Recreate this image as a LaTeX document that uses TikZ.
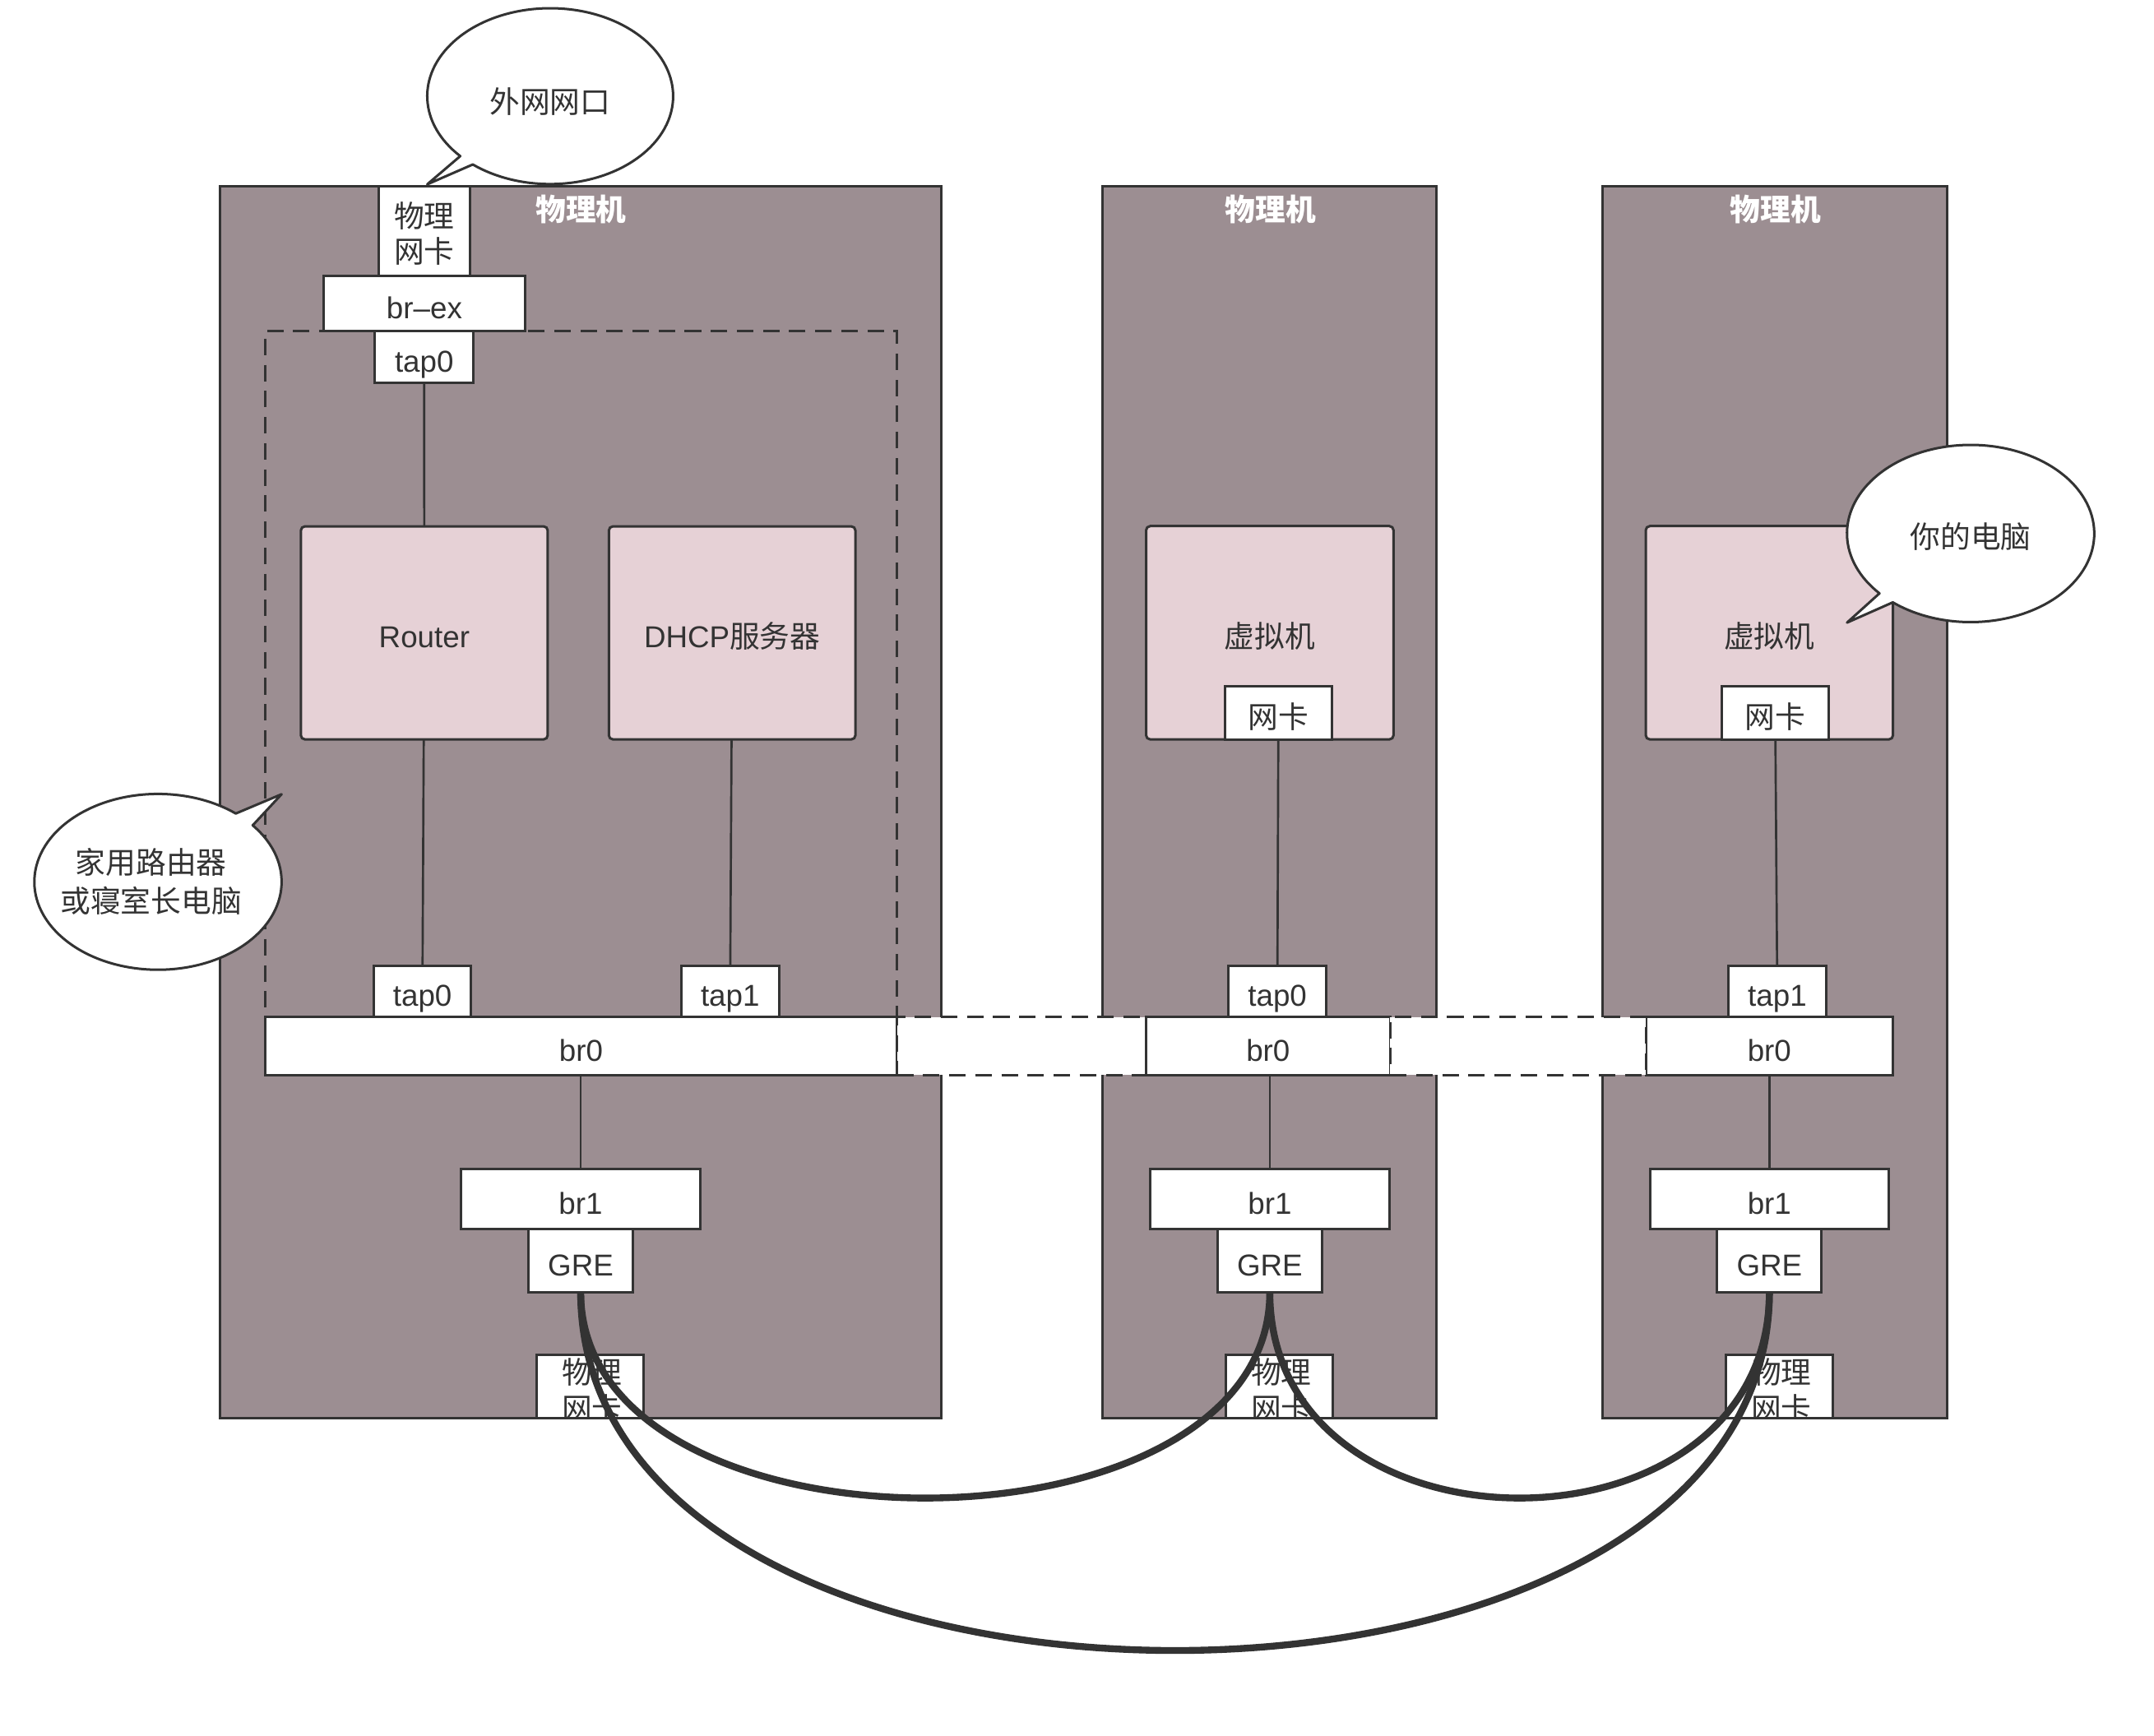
\documentclass[tikz,border=0pt]{standalone}
\usepackage{fontspec}
\setmainfont{Liberation Sans}
\newfontfamily\cjk{Noto Sans CJK SC}
\usetikzlibrary{calc}
\definecolor{hostfill}{HTML}{9C8E92}
\definecolor{vmfill}{HTML}{E6D1D6}
\definecolor{ink}{HTML}{333333}
\newcommand\mybox[7]{\node[#6, minimum width={(#4)-(#2)}, minimum height={(#5)-(#3)}] (#1) at ({((#2)+(#4))/2},{((#3)+(#5))/2}) {#7};}
\begin{document}
\begin{tikzpicture}[x=1pt, y=-1pt, font=\fontsize{22}{26}\selectfont,
  hostbox/.style={draw=ink, fill=hostfill, line width=1.8pt, inner sep=0pt, outer sep=0pt},
  wbox/.style={draw=ink, fill=white, line width=1.8pt, inner sep=0pt, outer sep=0pt, text=ink, text height=22pt, text depth=0pt},
  vmbox/.style={draw=ink, fill=vmfill, line width=1.8pt, rounded corners=3pt, inner sep=0pt, outer sep=0pt, text=ink, text height=22pt, text depth=0pt},
  dashbox/.style={draw=ink, fill=white, line width=1.8pt, dash pattern=on 12pt off 7pt, inner sep=0pt, outer sep=0pt},
  zonebox/.style={draw=ink, line width=1.8pt, dash pattern=on 12pt off 7pt, inner sep=0pt, outer sep=0pt},
  hosttitle/.style={text=white, font=\fontsize{22}{26}\selectfont\cjk\bfseries, inner sep=0pt},
  conn/.style={draw=ink, line width=1.6pt},
  grelink/.style={draw=ink, line width=5pt},
  bubble/.style={draw=ink, fill=white, line width=1.8pt, line join=round},
  btext/.style={text=ink, align=center, inner sep=0pt, font=\fontsize{22}{26}\selectfont\cjk}]
\useasboundingbox (0,0) rectangle (1568,1263.3);
\fill[white] (0,0) rectangle (1568,1263.3);

% hosts
\mybox{h1}{160}{135.4}{685.3}{1032.5}{hostbox}{}
\mybox{h2}{802.8}{135.4}{1045.9}{1032.5}{hostbox}{}
\mybox{h3}{1166.5}{135.4}{1417.5}{1032.5}{hostbox}{}
\node[hosttitle] (t1) at (423,152.5) {物理机};
\node[hosttitle] (t2) at (924.9,152.5) {物理机};
\node[hosttitle] (t3) at (1292.5,152.5) {物理机};

% router zone
\mybox{zone}{193}{241}{653}{740.4}{zonebox}{}

% host 1 upper
\mybox{nicT}{275.6}{135.4}{342.1}{200.6}{wbox}{}
\node[btext] (nicTT) at ($(nicT.center)+(0,2)$) {物理\\网卡};
\mybox{brex}{235.6}{200.6}{382.2}{241}{wbox}{br–ex}
\mybox{tapT}{273}{241}{344.6}{278.8}{wbox}{tap0}
\mybox{router}{219}{383.2}{398.7}{538.3}{vmbox}{Router}
\mybox{dhcp}{443.2}{383.2}{622.7}{538.3}{vmbox}{DHCP{\cjk 服务器}}
\mybox{tapA}{272}{703}{343}{740.4}{wbox}{tap0}
\mybox{tapB}{496}{703}{567}{740.4}{wbox}{tap1}

% host 2/3 VMs
\mybox{vm2}{834.3}{383}{1014.4}{538.3}{vmbox}{\cjk 虚拟机}
\mybox{vnic2}{891.8}{499.6}{969.4}{538.3}{wbox}{\cjk 网卡}
\mybox{vm3}{1198}{383}{1378}{538.3}{vmbox}{\cjk 虚拟机}
\mybox{vnic3}{1253.5}{499.6}{1331}{538.3}{wbox}{\cjk 网卡}
\mybox{tapC}{894.3}{703}{965.4}{740.4}{wbox}{tap0}
\mybox{tapD}{1258}{703}{1329.5}{740.4}{wbox}{tap1}

% br0 chain
\mybox{br0a}{193}{740.4}{653}{782.7}{wbox}{br0}
\mybox{link1}{653}{740.4}{834.3}{782.7}{dashbox}{}
\mybox{br0b}{834.3}{740.4}{1011.9}{782.7}{wbox}{br0}
\mybox{br0c}{1198}{740.4}{1378}{782.7}{wbox}{br0}
\mybox{link2}{1011.9}{740.4}{1198}{782.7}{dashbox}{}

% br1 / GRE / nic
\mybox{br1a}{335.6}{851.2}{509.7}{894.7}{wbox}{br1}
\mybox{grea}{384.7}{894.7}{460.7}{940.6}{wbox}{GRE}
\mybox{nica}{390.7}{986.2}{468.2}{1032.5}{wbox}{}
\mybox{br1b}{837.3}{851.2}{1011.4}{894.7}{wbox}{br1}
\mybox{greb}{886.3}{894.7}{962.4}{940.6}{wbox}{GRE}
\mybox{nicb}{892.4}{986.2}{969.9}{1032.5}{wbox}{}
\mybox{br1c}{1201}{851.2}{1375}{894.7}{wbox}{br1}
\mybox{grec}{1250}{894.7}{1326}{940.6}{wbox}{GRE}
\mybox{nicc}{1256.5}{986.2}{1334}{1032.5}{wbox}{}
\begin{scope}
\clip (nica.north west) rectangle (nica.south east);
\node[btext] (nicaT) at ($(nica.center)+(1.5,2.7)$) {物理\\网卡};
\end{scope}
\begin{scope}
\clip (nicb.north west) rectangle (nicb.south east);
\node[btext] (nicbT) at ($(nicb.center)+(1.5,2.7)$) {物理\\网卡};
\end{scope}
\begin{scope}
\clip (nicc.north west) rectangle (nicc.south east);
\node[btext] (niccT) at ($(nicc.center)+(1.5,2.7)$) {物理\\网卡};
\end{scope}

% connectors
\draw[conn] (tapT) -- (router);
\draw[conn] (router) -- (tapA);
\draw[conn] (dhcp) -- (tapB);
\draw[conn] (vnic2) -- (tapC);
\draw[conn] (vnic3) -- (tapD);
\draw[conn] (br1a.north |- br0a.south) -- (br1a.north);
\draw[conn] (br1b.north |- br0b.south) -- (br1b.north);
\draw[conn] (br1c.north |- br0c.south) -- (br1c.north);

% GRE tunnels
\draw[grelink] (grea.south) .. controls ($(grea.south)+(0,200)$) and ($(greb.south)+(0,200)$) .. (greb.south);
\draw[grelink] (greb.south) .. controls ($(greb.south)+(0,200)$) and ($(grec.south)+(0,200)$) .. (grec.south);
\draw[grelink] (grea.south) .. controls ($(grea.south)+(0,348)$) and ($(grec.south)+(0,348)$) .. (grec.south);

% bubbles
\draw[bubble] (400.5,70) ++(129:89.5 and 64) arc[start angle=129, end angle=-223, x radius=89.5, y radius=64] -- (311,134.2) -- cycle;
\node[btext] (bT) at (400.5,74) {外网网口};
\draw[bubble] (1434.5,388.4) ++(129:90 and 64.5) arc[start angle=129, end angle=-222.5, x radius=90, y radius=64.5] -- (1344.5,453.3) -- cycle;
\node[btext] (bR) at (1434.5,390.8) {你的电脑};
\draw[bubble] (115,642) ++(-40:90 and 64) arc[start angle=-40, end angle=309, x radius=90, y radius=64] -- (205,578.2) -- cycle;
\node[btext, font=\fontsize{22}{28}\selectfont\cjk] (bL) at (110,642) {家用路由器\\或寝室长电脑};
\end{tikzpicture}
\end{document}
